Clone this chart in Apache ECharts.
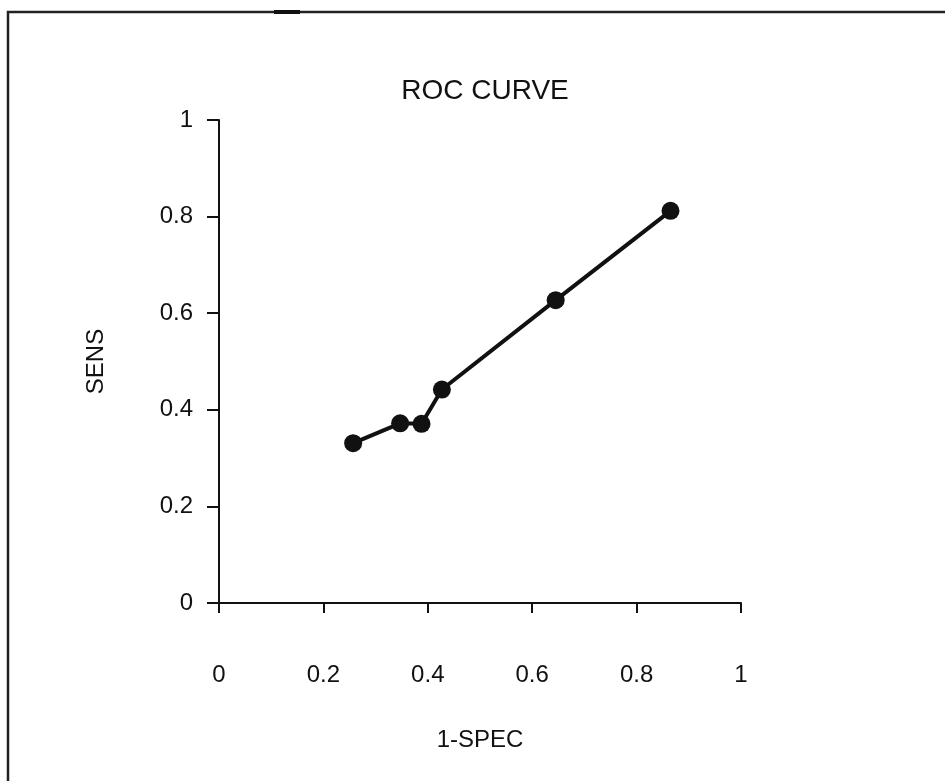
<!DOCTYPE html>
<html>
<head>
<meta charset="utf-8">
<script src="https://cdn.jsdelivr.net/npm/echarts@6/dist/echarts.min.js"></script>
<style>
  html, body { margin: 0; padding: 0; background: #fff; }
  #chart { width: 945px; height: 781px; }
</style>
</head>
<body>
<div id="chart"></div>
<script>
// ROC curve: false-positive rate (1 - specificity) vs sensitivity
const oneMinusSpec = [0.257, 0.347, 0.388, 0.427, 0.645, 0.865];
const sensitivity  = [0.331, 0.372, 0.371, 0.442, 0.627, 0.812];
const axisTicks    = [0, 0.2, 0.4, 0.6, 0.8, 1];

const points = oneMinusSpec.map((x, i) => [x, sensitivity[i]]);
const fontFamily = '"Liberation Sans", Arial, sans-serif';
const ink = '#111';

const chart = echarts.init(document.getElementById('chart'), null, { renderer: 'canvas' });

chart.setOption({
  backgroundColor: '#fff',
  animation: false,
  title: {
    text: 'ROC CURVE',
    left: 480,
    top: 72,
    textAlign: 'center',
    textStyle: { fontFamily, fontSize: 28, fontWeight: 'normal', color: ink }
  },
  grid: { left: 219, top: 120, right: 204, bottom: 178, containLabel: false },
  xAxis: {
    type: 'value',
    min: axisTicks[0],
    max: axisTicks[axisTicks.length - 1],
    interval: 0.2,
    name: '1-SPEC',
    nameLocation: 'middle',
    nameGap: 125,
    nameTextStyle: { fontFamily, fontSize: 24, color: ink },
    axisLine: { show: true, onZero: false, lineStyle: { color: ink, width: 2 } },
    axisTick: { show: true, inside: false, length: 10, lineStyle: { color: ink, width: 2 } },
    axisLabel: {
      fontFamily, fontSize: 24, color: ink, margin: 60,
      formatter: v => String(+v.toFixed(1))
    },
    splitLine: { show: false }
  },
  yAxis: {
    type: 'value',
    min: axisTicks[0],
    max: axisTicks[axisTicks.length - 1],
    interval: 0.2,
    name: 'SENS',
    nameLocation: 'middle',
    nameGap: 111,
    nameRotate: 90,
    nameTextStyle: { fontFamily, fontSize: 24, color: ink },
    axisLine: { show: true, onZero: false, lineStyle: { color: ink, width: 2 } },
    axisTick: { show: true, inside: false, length: 12, lineStyle: { color: ink, width: 2 } },
    axisLabel: {
      fontFamily, fontSize: 24, color: ink, margin: 26,
      formatter: v => String(+v.toFixed(1))
    },
    splitLine: { show: false }
  },
  series: [{
    type: 'line',
    data: points,
    symbol: 'circle',
    symbolSize: 18,
    showSymbol: true,
    lineStyle: { color: ink, width: 4 },
    itemStyle: { color: ink },
    z: 5
  }],
  graphic: [
    // frame: left and top edges
    { type: 'polyline', shape: { points: [[8, 781], [8, 12], [945, 12]] },
      style: { stroke: '#222', lineWidth: 2.5, fill: null }, z: 10 },
    { type: 'line', shape: { x1: 274, y1: 12, x2: 300, y2: 12 },
      style: { stroke: '#111', lineWidth: 4 }, z: 11 }
  ]
});
</script>
</body>
</html>
